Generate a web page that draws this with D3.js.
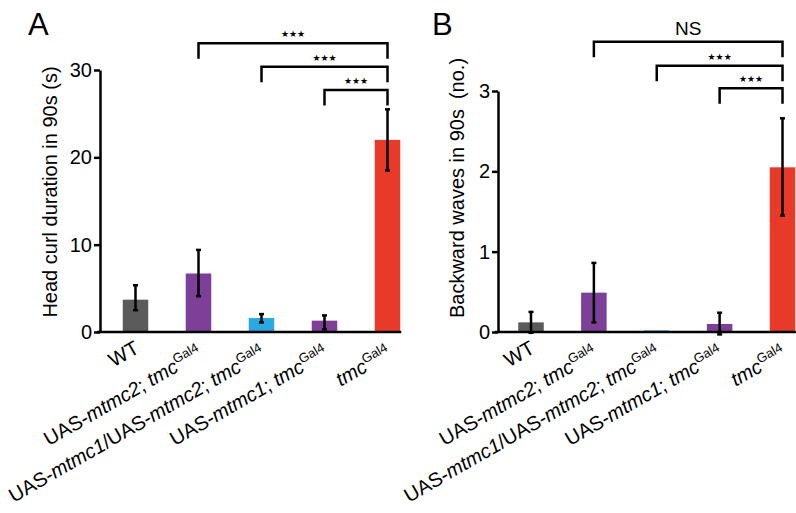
<!DOCTYPE html>
<html>
<head>
<meta charset="utf-8">
<script src="https://cdn.jsdelivr.net/npm/d3@7"></script>
<style>
  body { margin: 0; background: #fff; }
  svg text { font-family: "Liberation Sans", Arial, sans-serif; fill: #000; }
</style>
</head>
<body>
<script>
// group labels: [text, style]; style is normal / italic / sup
var labelParts = [
  [["WT", "normal"]],
  [["UAS-", "normal"], ["mtmc2", "italic"], ["; ", "normal"], ["tmc", "italic"], ["Gal4", "sup"]],
  [["UAS-", "normal"], ["mtmc1", "italic"], ["/UAS-", "normal"], ["mtmc2", "italic"], ["; ", "normal"], ["tmc", "italic"], ["Gal4", "sup"]],
  [["UAS-", "normal"], ["mtmc1", "italic"], ["; ", "normal"], ["tmc", "italic"], ["Gal4", "sup"]],
  [["tmc", "italic"], ["Gal4", "sup"]]
];
var colours = ["#5b5b5b", "#7e3f98", "#2aa9e0", "#7e3f98", "#e73a28"];

// panel A - head curl duration (s)
var headCurl     = [3.7, 6.7, 1.6, 1.3, 22.0];
var headCurlLow  = [2.5, 4.1, 1.1, 0.3, 18.5];
var headCurlHigh = [5.35, 9.4, 2.05, 1.9, 25.5];
var ticksA = [0, 10, 20, 30];

// panel B - backward waves (no.)
var waves     = [0.12, 0.49, 0.02, 0.10, 2.05];
var wavesLow  = [-0.01, 0.12, 0.02, -0.03, 1.45];
var wavesHigh = [0.25, 0.86, 0.02, 0.24, 2.66];
var ticksB = [0, 1, 2, 3];

// comparisons against tmc (index 4)
var compared = [1, 2, 3];
var sigA = ["★★★", "★★★", "★★★"];
var sigB = ["NS", "★★★", "★★★"];

var w = 796, h = 513;
var svg = d3.select("body").append("svg")
            .attr("width", w)
            .attr("height", h);

function drawPanel(p) {
  var g = svg.append("g");

  var x = d3.scalePoint()
            .domain(d3.range(labelParts.length))
            .range(p.xRange);
  var y = d3.scaleLinear()
            .domain([0, p.ticks[p.ticks.length - 1]])
            .range([p.yBottom, p.yTop]);
  var bw = 25.5;

  // bars
  g.selectAll("rect.bar")
   .data(p.values)
   .enter()
   .append("rect")
   .attr("class", "bar")
   .attr("x", function(d, i){ return x(i) - bw / 2; })
   .attr("y", function(d){ return y(d); })
   .attr("width", bw)
   .attr("height", function(d){ return y(0) - y(d); })
   .attr("fill", function(d, i){ return colours[i]; });

  // error bars
  var eb = g.selectAll("g.err")
            .data(p.values.map(function(d, i){ return {i: i, lo: p.low[i], hi: p.high[i]}; })
                          .filter(function(d){ return d.hi - d.lo > 0.001; }))
            .enter()
            .append("g")
            .attr("class", "err")
            .attr("stroke", "#000")
            .attr("stroke-width", 2.5);
  eb.append("line")
    .attr("x1", function(d){ return x(d.i); })
    .attr("x2", function(d){ return x(d.i); })
    .attr("y1", function(d){ return y(d.lo); })
    .attr("y2", function(d){ return y(d.hi); });
  ["lo", "hi"].forEach(function(k){
    eb.append("line")
      .attr("x1", function(d){ return x(d.i) - 2.5; })
      .attr("x2", function(d){ return x(d.i) + 2.5; })
      .attr("y1", function(d){ return y(d[k]); })
      .attr("y2", function(d){ return y(d[k]); });
  });

  // y axis
  var yAxis = d3.axisLeft(y)
                .tickValues(p.ticks)
                .tickFormat(d3.format("d"))
                .tickSize(6)
                .tickSizeOuter(0)
                .tickPadding(2);
  var ya = g.append("g")
            .attr("transform", "translate(" + p.axisX + ",0)")
            .call(yAxis);
  ya.selectAll("path, line").attr("stroke", "#000").attr("stroke-width", 2.5);
  ya.selectAll("text")
    .attr("font-family", "Liberation Sans, Arial, sans-serif")
    .attr("font-size", "20px")
    .attr("fill", "#000");

  // x baseline
  g.append("line")
   .attr("x1", p.axisX - 3)
   .attr("x2", x(labelParts.length - 1) + bw / 2 + 1)
   .attr("y1", y(0))
   .attr("y2", y(0))
   .attr("stroke", "#000")
   .attr("stroke-width", 2.5);

  // x labels
  labelParts.forEach(function(parts, i){
    var t = g.append("text")
             .attr("transform", "translate(" + (x(i) + 5) + "," + (parts.length > 1 ? 357 : 352) + ") rotate(-30)")
             .attr("text-anchor", "end")
             .attr("font-size", "20px");
    parts.forEach(function(pt){
      var s = t.append("tspan").text(pt[0]);
      if (pt[1] == "italic") s.attr("font-style", "italic");
      if (pt[1] == "sup") s.attr("font-size", "13px").attr("dy", "-8");
    });
  });

  // y title
  g.append("text")
   .attr("transform", "translate(" + p.titleX + "," + p.titleY + ") rotate(-90)")
   .attr("text-anchor", "middle")
   .attr("font-size", "20px")
   .text(p.title);

  // panel letter
  g.append("text")
   .attr("x", p.letterX)
   .attr("y", 35)
   .attr("font-size", "31px")
   .text(p.letter);

  // significance brackets
  compared.forEach(function(c, k){
    var by = p.brackets[k];
    var x1 = x(c), x2 = x(4);
    g.append("path")
     .attr("d", "M" + x1 + "," + (by + 15.5) + "V" + by + "H" + x2 + "V" + (by + 15.5))
     .attr("fill", "none")
     .attr("stroke", "#000")
     .attr("stroke-width", 2.5);
    var isStar = p.sig[k].indexOf("★") >= 0;
    g.append("text")
     .attr("x", (x1 + x2) / 2)
     .attr("y", by - (isStar ? 6 : 6.5))
     .attr("text-anchor", "middle")
     .attr("font-size", isStar ? "9px" : "19px")
     .style("font-family", isStar ? "DejaVu Sans" : null)
     .text(p.sig[k]);
  });
}

drawPanel({
  letter: "A", letterX: 28,
  axisX: 100, yTop: 70, yBottom: 332,
  xRange: [135.5, 387.5],
  values: headCurl, low: headCurlLow, high: headCurlHigh,
  ticks: ticksA,
  title: "Head curl duration in 90s (s)", titleX: 57, titleY: 192,
  brackets: [43.3, 66.7, 90], sig: sigA
});

drawPanel({
  letter: "B", letterX: 432,
  axisX: 498, yTop: 91, yBottom: 332,
  xRange: [531, 782.5],
  values: waves, low: wavesLow, high: wavesHigh,
  ticks: ticksB,
  title: "Backward waves in 90s\u2002(no.)", titleX: 464, titleY: 188,
  brackets: [41.7, 65.7, 88.3], sig: sigB
});
</script>
</body>
</html>
